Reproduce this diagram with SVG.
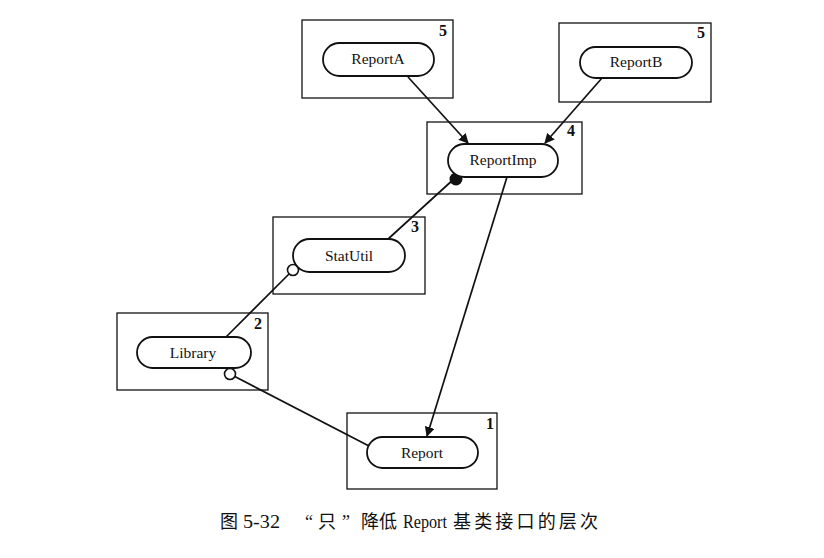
<svg xmlns="http://www.w3.org/2000/svg" width="824" height="558" viewBox="0 0 824 558">
<style>
.box{fill:none;stroke:#111;stroke-width:1.3}
.pill{fill:#fff;stroke:#111;stroke-width:1.8}
.lbl{font-family:"Liberation Serif","Times New Roman",serif;font-size:15.5px;fill:#111;text-anchor:middle}
.num{font-family:"Liberation Serif","Times New Roman",serif;font-size:16px;font-weight:bold;fill:#111;text-anchor:middle}
.ln{stroke:#111;stroke-width:1.7;fill:none}
.cap{font-family:"Liberation Serif","Noto Sans CJK SC",serif;font-size:18px;fill:#111}
</style>
<defs>
<marker id="arr" viewBox="0 0 10 10" refX="9" refY="5" markerWidth="10" markerHeight="10" markerUnits="userSpaceOnUse" orient="auto">
<path d="M0,0 L10,5 L0,10 z" fill="#111"/>
</marker>
</defs>
<rect width="824" height="558" fill="#fff"/>
<g id="connectors">
<line class="ln" x1="408" y1="77" x2="468" y2="143" marker-end="url(#arr)"/>
<line class="ln" x1="602" y1="78" x2="545" y2="143" marker-end="url(#arr)"/>
<line class="ln" x1="507" y1="177" x2="427" y2="436" marker-end="url(#arr)"/>
<line class="ln" x1="455" y1="178" x2="387" y2="240"/>
<line class="ln" x1="293" y1="270" x2="225" y2="338"/>
<line class="ln" x1="230" y1="374" x2="369" y2="446"/>
<circle cx="456" cy="179" r="6.5" fill="#111"/>
<circle cx="293" cy="270" r="5.5" fill="#fff" stroke="#111" stroke-width="1.6"/>
<circle cx="230" cy="374" r="5.5" fill="#fff" stroke="#111" stroke-width="1.6"/>
</g>
<g id="ReportA">
<rect class="box" x="302" y="20" width="151" height="78"/>
<rect class="pill" x="323" y="43" width="111" height="33" rx="16.5"/>
<text class="lbl" x="378" y="64">ReportA</text>
<text class="num" x="443" y="36">5</text>
</g>
<g id="ReportB">
<rect class="box" x="559" y="23" width="152" height="79"/>
<rect class="pill" x="580" y="47" width="112" height="31" rx="15.5"/>
<text class="lbl" x="636" y="67">ReportB</text>
<text class="num" x="701" y="38">5</text>
</g>
<g id="ReportImp">
<rect class="box" x="427" y="122" width="155" height="72"/>
<rect class="pill" x="448" y="144" width="110" height="33" rx="16.5"/>
<text class="lbl" x="503" y="165">ReportImp</text>
<text class="num" x="571" y="136">4</text>
</g>
<g id="StatUtil">
<rect class="box" x="273" y="217" width="152" height="77"/>
<rect class="pill" x="293" y="239" width="112" height="33" rx="16.5"/>
<text class="lbl" x="349" y="261">StatUtil</text>
<text class="num" x="415" y="232">3</text>
</g>
<g id="Library">
<rect class="box" x="117" y="313" width="151" height="77"/>
<rect class="pill" x="137" y="337" width="114" height="31" rx="15.5"/>
<text class="lbl" x="193" y="358">Library</text>
<text class="num" x="258" y="329">2</text>
</g>
<g id="Report">
<rect class="box" x="347" y="413" width="150" height="76"/>
<rect class="pill" x="367" y="437" width="111" height="31" rx="15.5"/>
<text class="lbl" x="422" y="458">Report</text>
<text class="num" x="490" y="429">1</text>
</g>
<text class="cap" y="528"><tspan x="220">图</tspan><tspan x="243" textLength="37" lengthAdjust="spacingAndGlyphs">5-32</tspan><tspan x="305">“</tspan><tspan x="318">只</tspan><tspan x="342">”</tspan><tspan x="361">降</tspan><tspan x="379">低</tspan><tspan x="403" textLength="44" lengthAdjust="spacingAndGlyphs">Report</tspan><tspan x="453" textLength="145" lengthAdjust="spacing">基类接口的层次</tspan></text>
</svg>
